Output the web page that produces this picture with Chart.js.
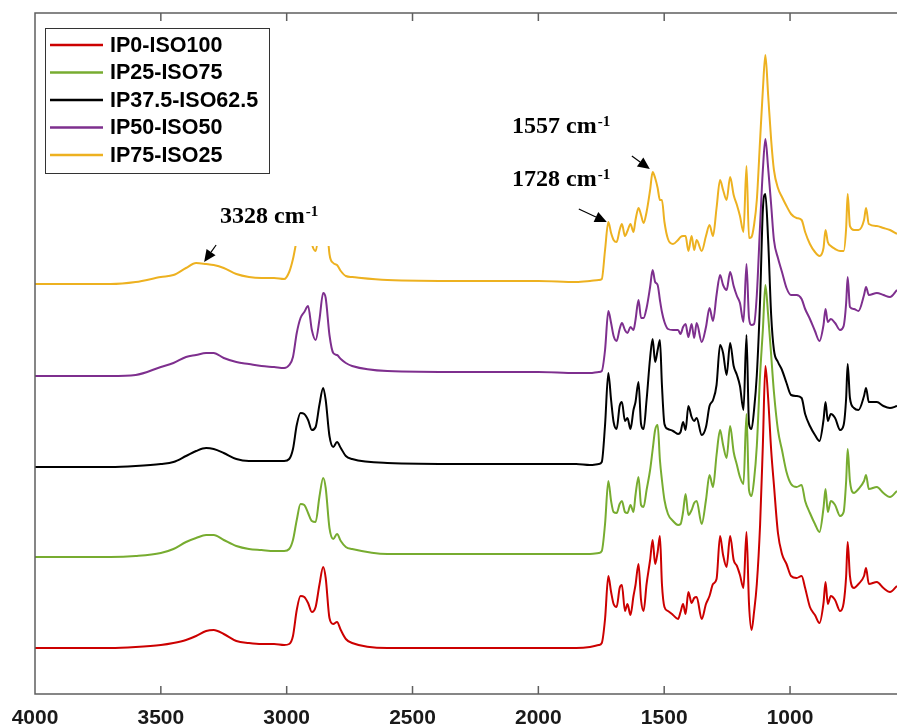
<!DOCTYPE html>
<html>
<head>
<meta charset="utf-8">
<title>FTIR spectra</title>
<script src="https://cdn.jsdelivr.net/npm/chart.js@4.4.0/dist/chart.umd.min.js"></script>
<style>
  html, body { margin: 0; padding: 0; background: #fff; }
  #wrap { width: 897px; height: 727px; }
</style>
</head>
<body>
<div id="wrap"><canvas id="ftir" width="897" height="727"></canvas></div>
<script>
// wavenumber grid (cm-1) shared by all spectra, high to low
const wavenumbers = [
  4000, 3700, 3600, 3500, 3450, 3400, 3360, 3320, 3290, 3250,
  3200, 3150, 3100, 3050, 3010, 2990, 2975, 2960, 2945, 2930,
  2915, 2900, 2885, 2870, 2855, 2845, 2830, 2815, 2800, 2785,
  2765, 2740, 2600, 2300, 2000, 1850, 1795, 1760, 1748,
  1735, 1722, 1711, 1701, 1689, 1677, 1668, 1656, 1646, 1634,
  1622, 1614, 1602, 1592, 1582, 1570, 1556, 1546, 1536, 1526,
  1517, 1509, 1499, 1485, 1465, 1445, 1435, 1425, 1415, 1404,
  1391, 1381, 1371, 1351, 1334, 1320, 1306, 1292, 1278, 1266,
  1252, 1238, 1224, 1211, 1199, 1185, 1173, 1163, 1153, 1143,
  1132, 1119, 1108, 1098, 1087, 1075, 1064, 1048, 1032, 1014,
  996, 974, 954, 940, 921, 901, 883, 867, 859, 850,
  838, 821, 801, 787, 777, 771, 762, 746, 728, 706,
  698, 687, 655, 629, 603, 575
];

// absorbance (a.u., stacked with vertical offsets)
const absIP0 = [
  0.46, 0.46, 0.47, 0.49, 0.51, 0.54, 0.58, 0.63, 0.64, 0.60,
  0.53, 0.51, 0.50, 0.50, 0.49, 0.50, 0.58, 0.84, 0.98, 0.97,
  0.91, 0.82, 0.87, 1.09, 1.27, 1.16, 0.76, 0.70, 0.72, 0.64,
  0.55, 0.51, 0.46, 0.46, 0.46, 0.46, 0.47, 0.49, 0.51,
  0.75, 1.18, 1.02, 0.90, 0.87, 1.06, 1.09, 0.83, 0.90, 0.79,
  0.98, 1.09, 1.30, 0.94, 0.83, 1.10, 1.34, 1.54, 1.30, 1.42,
  1.58, 1.10, 0.87, 0.83, 0.79, 0.75, 0.82, 0.90, 0.80, 1.02,
  0.91, 0.96, 0.97, 0.75, 0.90, 0.98, 1.10, 1.15, 1.58, 1.39,
  1.27, 1.58, 1.34, 1.28, 1.19, 1.06, 1.62, 0.90, 0.64, 0.82,
  1.10, 1.69, 2.49, 3.28, 2.96, 2.44, 2.09, 1.61, 1.40, 1.30,
  1.18, 1.16, 1.18, 1.06, 0.87, 0.79, 0.71, 0.91, 1.12, 0.90,
  0.98, 0.94, 0.83, 0.91, 1.18, 1.52, 1.18, 1.06, 1.10, 1.18,
  1.26, 1.10, 1.12, 1.06, 1.02, 1.08
];
const absIP25 = [
  1.37, 1.37, 1.38, 1.41, 1.45, 1.52, 1.56, 1.59, 1.59, 1.54,
  1.48, 1.45, 1.44, 1.43, 1.43, 1.45, 1.54, 1.74, 1.90, 1.89,
  1.81, 1.73, 1.72, 1.97, 2.16, 2.06, 1.66, 1.55, 1.60, 1.53,
  1.47, 1.45, 1.40, 1.40, 1.40, 1.40, 1.40, 1.41, 1.43,
  1.70, 2.13, 1.93, 1.82, 1.81, 1.90, 1.93, 1.82, 1.81, 1.89,
  1.82, 1.99, 2.17, 1.89, 1.87, 2.04, 2.24, 2.44, 2.64, 2.69,
  2.34, 2.14, 1.94, 1.80, 1.73, 1.69, 1.70, 1.82, 2.00, 1.79,
  1.84, 1.91, 1.93, 1.70, 1.94, 2.19, 2.07, 2.39, 2.64, 2.49,
  2.36, 2.68, 2.42, 2.29, 2.17, 2.10, 2.80, 2.04, 1.98, 2.14,
  2.48, 3.19, 3.64, 4.09, 3.79, 3.39, 3.02, 2.64, 2.44, 2.22,
  2.10, 2.07, 2.09, 1.93, 1.81, 1.70, 1.62, 1.86, 2.05, 1.82,
  1.93, 1.89, 1.78, 1.82, 2.13, 2.45, 2.13, 2.01, 2.05, 2.13,
  2.19, 2.05, 2.07, 2.01, 1.97, 2.03
];
const absIP375 = [
  2.27, 2.27, 2.28, 2.30, 2.32, 2.38, 2.43, 2.46, 2.45, 2.41,
  2.35, 2.33, 2.33, 2.33, 2.33, 2.35, 2.45, 2.69, 2.81, 2.80,
  2.74, 2.64, 2.67, 2.89, 3.06, 2.94, 2.58, 2.47, 2.52, 2.46,
  2.38, 2.35, 2.31, 2.30, 2.30, 2.30, 2.29, 2.30, 2.32,
  2.69, 3.21, 2.94, 2.72, 2.65, 2.88, 2.92, 2.73, 2.76, 2.65,
  2.84, 2.92, 3.12, 2.70, 2.65, 2.94, 3.36, 3.55, 3.32, 3.44,
  3.54, 3.09, 2.70, 2.65, 2.63, 2.60, 2.62, 2.72, 2.64, 2.88,
  2.77, 2.73, 2.76, 2.59, 2.67, 2.88, 2.94, 3.09, 3.49, 3.41,
  3.19, 3.51, 3.28, 3.19, 3.08, 2.84, 3.59, 2.70, 2.65, 2.84,
  3.19, 3.94, 4.84, 5.00, 4.54, 3.79, 3.44, 3.32, 3.24, 3.11,
  2.99, 2.98, 2.96, 2.80, 2.68, 2.59, 2.53, 2.74, 2.92, 2.73,
  2.80, 2.76, 2.64, 2.69, 2.96, 3.30, 2.96, 2.86, 2.84, 2.98,
  3.06, 2.92, 2.92, 2.88, 2.86, 2.88
];
const absIP50 = [
  3.18, 3.18, 3.19, 3.27, 3.31, 3.37, 3.39, 3.41, 3.41, 3.36,
  3.32, 3.30, 3.28, 3.27, 3.26, 3.29, 3.37, 3.61, 3.76, 3.82,
  3.88, 3.64, 3.54, 3.74, 4.01, 3.96, 3.59, 3.41, 3.39, 3.35,
  3.31, 3.28, 3.23, 3.22, 3.22, 3.21, 3.21, 3.22, 3.23,
  3.44, 3.83, 3.71, 3.58, 3.53, 3.65, 3.71, 3.64, 3.61, 3.67,
  3.64, 3.74, 3.94, 3.76, 3.76, 3.86, 4.07, 4.24, 4.12, 4.09,
  3.94, 3.82, 3.72, 3.65, 3.64, 3.64, 3.60, 3.67, 3.70, 3.57,
  3.70, 3.56, 3.71, 3.52, 3.67, 3.86, 3.73, 3.99, 4.19, 4.09,
  4.04, 4.22, 4.08, 3.98, 3.91, 3.72, 4.30, 3.76, 3.69, 3.70,
  3.99, 4.69, 5.24, 5.55, 5.26, 4.89, 4.54, 4.36, 4.22, 4.06,
  3.99, 3.99, 3.95, 3.85, 3.75, 3.63, 3.53, 3.69, 3.85, 3.72,
  3.75, 3.71, 3.64, 3.68, 3.91, 4.17, 3.87, 3.85, 3.83, 3.99,
  4.07, 3.99, 4.01, 3.99, 3.97, 4.04
];
const absIP75 = [
  4.10, 4.10, 4.12, 4.17, 4.19, 4.26, 4.31, 4.30, 4.29, 4.26,
  4.20, 4.17, 4.16, 4.16, 4.15, 4.22, 4.35, 4.54, 4.69, 4.72,
  4.70, 4.50, 4.43, 4.68, 4.94, 4.86, 4.40, 4.31, 4.29, 4.23,
  4.18, 4.17, 4.14, 4.13, 4.13, 4.12, 4.13, 4.14, 4.15,
  4.44, 4.72, 4.61, 4.54, 4.52, 4.64, 4.70, 4.58, 4.63, 4.70,
  4.62, 4.74, 4.86, 4.79, 4.71, 4.82, 5.04, 5.22, 5.16, 5.06,
  4.94, 4.94, 4.72, 4.55, 4.50, 4.54, 4.57, 4.58, 4.58, 4.43,
  4.58, 4.44, 4.54, 4.43, 4.58, 4.69, 4.58, 4.86, 5.14, 5.04,
  4.94, 5.17, 4.99, 4.89, 4.78, 4.62, 5.28, 4.56, 4.57, 4.69,
  4.94, 5.54, 6.04, 6.39, 5.99, 5.54, 5.24, 5.06, 4.97, 4.88,
  4.80, 4.76, 4.74, 4.62, 4.50, 4.42, 4.38, 4.46, 4.64, 4.52,
  4.48, 4.45, 4.43, 4.43, 4.66, 5.00, 4.68, 4.64, 4.64, 4.74,
  4.86, 4.70, 4.68, 4.66, 4.64, 4.60
];

const seriesLabels = ['IP0-ISO100', 'IP25-ISO75', 'IP37.5-ISO62.5', 'IP50-ISO50', 'IP75-ISO25'];
const seriesColors = ['#cc0000', '#77ac30', '#000000', '#7e2f8e', '#edb120'];
const seriesValues = [absIP0, absIP25, absIP375, absIP50, absIP75];

const xTicks = [4000, 3500, 3000, 2500, 2000, 1500, 1000];

// marked bands: wavenumber and the level the arrow points at
const markedPeaks = [3328, 1728, 1557];
const markedLevels = [4.32, 4.72, 5.25];

// label placement for each marked band (px, relative to the plot area)
const peakNotes = [
  { tail: [12, -17], text: [185, 210], mask: [170, 176, 135, 57] },
  { tail: [-28, -13], text: [477, 173] },
  { tail: [-18, -13], text: [477, 120] }
];

const legendBox = { x: 10, y: 15, w: 224, h: 145, first: 17, row: 27.5 };

const overlay = {
  id: 'overlay',
  afterDatasetsDraw(chart) {
    const { ctx, chartArea: a, scales: { x, y } } = chart;
    ctx.save();

    // white boxes behind the band labels
    peakNotes.forEach(n => {
      if (!n.mask) return;
      ctx.fillStyle = '#fff';
      ctx.fillRect(a.left + n.mask[0], a.top + n.mask[1], n.mask[2], n.mask[3]);
    });

    // axes frame with inward ticks
    ctx.strokeStyle = '#5f5f5f';
    ctx.lineWidth = 1.5;
    ctx.beginPath();
    ctx.moveTo(a.right + 2, a.top);
    ctx.lineTo(a.left, a.top);
    ctx.lineTo(a.left, a.bottom);
    ctx.lineTo(a.right + 2, a.bottom);
    xTicks.forEach(v => {
      const px = x.getPixelForValue(v);
      ctx.moveTo(px, a.top);
      ctx.lineTo(px, a.top + 8);
      ctx.moveTo(px, a.bottom);
      ctx.lineTo(px, a.bottom - 8);
    });
    ctx.stroke();

    // band labels and arrows
    markedPeaks.forEach((wn, i) => {
      const n = peakNotes[i];
      const tx = x.getPixelForValue(wn);
      const ty = y.getPixelForValue(markedLevels[i]);
      const sx = tx + n.tail[0];
      const sy = ty + n.tail[1];
      const ang = Math.atan2(ty - sy, tx - sx);
      const head = 12, half = 5.5;
      const bx = tx - head * Math.cos(ang);
      const by = ty - head * Math.sin(ang);
      ctx.strokeStyle = '#000';
      ctx.lineWidth = 1.2;
      ctx.beginPath();
      ctx.moveTo(sx, sy);
      ctx.lineTo(bx, by);
      ctx.stroke();
      ctx.fillStyle = '#000';
      ctx.beginPath();
      ctx.moveTo(tx, ty);
      ctx.lineTo(bx + half * Math.sin(ang), by - half * Math.cos(ang));
      ctx.lineTo(bx - half * Math.sin(ang), by + half * Math.cos(ang));
      ctx.closePath();
      ctx.fill();

      const lx = a.left + n.text[0];
      const ly = a.top + n.text[1];
      ctx.textBaseline = 'alphabetic';
      ctx.textAlign = 'left';
      ctx.font = 'bold 24px "Liberation Serif"';
      const main = wn + ' cm';
      ctx.fillText(main, lx, ly);
      const w = ctx.measureText(main).width;
      ctx.font = 'bold 15px "Liberation Serif"';
      ctx.fillText('-1', lx + w + 1, ly - 7);
    });

    // legend
    const L = legendBox;
    const lx = a.left + L.x, ly = a.top + L.y;
    ctx.fillStyle = '#fff';
    ctx.fillRect(lx, ly, L.w, L.h);
    ctx.strokeStyle = '#333';
    ctx.lineWidth = 1;
    ctx.strokeRect(lx + 0.5, ly + 0.5, L.w, L.h);
    ctx.font = 'bold 21.5px "Liberation Sans"';
    ctx.textBaseline = 'middle';
    seriesLabels.forEach((lab, i) => {
      const cy = ly + L.first + i * L.row;
      ctx.strokeStyle = seriesColors[i];
      ctx.lineWidth = 2.5;
      ctx.beginPath();
      ctx.moveTo(lx + 5, cy);
      ctx.lineTo(lx + 58, cy);
      ctx.stroke();
      ctx.fillStyle = '#000';
      ctx.fillText(lab, lx + 65, cy + 1);
    });

    ctx.restore();
  }
};

new Chart(document.getElementById('ftir'), {
  type: 'line',
  data: {
    labels: wavenumbers,
    datasets: seriesLabels.map((lab, i) => ({
      label: lab,
      data: wavenumbers.map((wn, j) => ({ x: wn, y: seriesValues[i][j] })),
      borderColor: seriesColors[i],
      borderWidth: 2,
      pointRadius: 0,
      cubicInterpolationMode: 'monotone',
      fill: false
    }))
  },
  options: {
    responsive: false,
    animation: false,
    devicePixelRatio: 1,
    layout: { padding: { left: 35, top: 13, right: 0, bottom: 0 } },
    plugins: { legend: { display: false }, tooltip: { enabled: false } },
    scales: {
      x: {
        type: 'linear',
        reverse: true,
        min: 575,
        max: 4000,
        afterBuildTicks: scale => { scale.ticks = xTicks.map(v => ({ value: v })); },
        // fixed band under the plot; labels may overhang the left margin
        afterFit: scale => {
          scale.height = 33;
          scale.paddingLeft = 0;
          scale.paddingRight = 0;
        },
        grid: { display: false, drawTicks: false },
        border: { display: false },
        ticks: {
          color: '#1a1a1a',
          padding: 14,
          maxRotation: 0,
          autoSkip: false,
          callback: v => String(v),
          font: { family: 'Liberation Sans', size: 21, weight: 'bold', lineHeight: 1 }
        }
      },
      y: { display: false, min: 0, max: 6.81 }
    }
  },
  plugins: [overlay]
});
</script>
</body>
</html>
